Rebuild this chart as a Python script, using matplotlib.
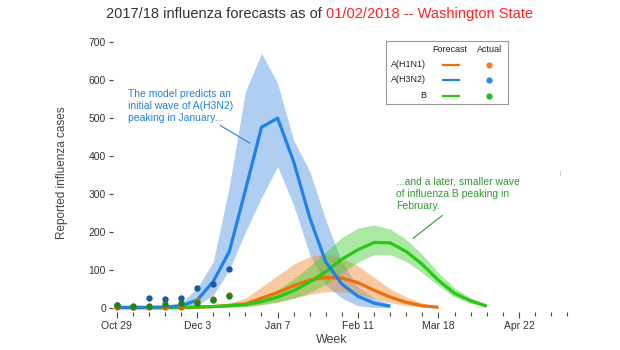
import numpy as np
import matplotlib
matplotlib.use("Agg")
import matplotlib.pyplot as plt

plt.rcParams["font.family"] = ["Liberation Sans", "DejaVu Sans"]

# weeks since Oct 29, 2017
week_labels = ["Oct 29", "Dec 3", "Jan 7", "Feb 11", "Mar 18", "Apr 22"]
label_weeks = [0, 5, 10, 15, 20, 25]

# forecasts (median and band)
h3n2_mid = [1, 1, 1, 2, 5, 20, 69, 148, 310, 476, 500, 385, 237, 120, 62, 30, 12, 4]
h3n2_lo = [0, 0, 0, 0, 1, 6, 33, 100, 200, 290, 372, 270, 140, 60, 25, 5, 1, 0]
h3n2_hi = [3, 3, 4, 5, 12, 52, 121, 320, 570, 671, 592, 441, 360, 230, 120, 55, 25, 10]

h1n1_mid = [0, 0, 0, 0, 0, 1, 3, 6, 10, 25, 40, 58, 73, 80, 78, 66, 46, 28, 14, 5, 1]
h1n1_lo = [0, 0, 0, 0, 0, 0, 1, 2, 3, 8, 15, 25, 35, 42, 42, 35, 24, 13, 6, 2, 0]
h1n1_hi = [1, 1, 1, 1, 1, 3, 7, 13, 25, 55, 85, 115, 135, 142, 132, 110, 80, 50, 28, 12, 4]

b_mid = [0, 0, 0, 0, 1, 2, 3, 5, 8, 16, 28, 45, 68, 95, 128, 153, 172, 171, 148, 114, 72, 38, 18, 4]
b_lo = [0, 0, 0, 0, 0, 0, 1, 2, 3, 8, 15, 25, 40, 62, 92, 120, 140, 140, 122, 92, 58, 28, 12, 2]
b_hi = [1, 1, 1, 2, 3, 5, 7, 10, 15, 28, 48, 75, 110, 148, 185, 210, 218, 208, 180, 140, 92, 52, 26, 10]

# observed counts
h3n2_obs = [7, 2, 25, 23, 25, 53, 63, 103]
h1n1_obs = [2, 2, 1, 1, 3, 18, 22, 33]
b_obs = [6, 4, 5, 9, 12, 13, 20, 31]

names = ["A(H1N1)", "A(H3N2)", "B"]
line_cols = ["#ee6e0a", "#1f82e6", "#28c814"]
band_cols = ["#f08a30", "#4f93e0", "#44cc33"]
dot_cols = ["#d7640a", "#1a5aa0", "#18871e"]
legend_dot_cols = ["#f08020", "#2a8ae8", "#22bb22"]

fig = plt.figure(figsize=(6.2, 3.5), dpi=100)
ax = fig.add_axes([113 / 620, 1 - 311.5 / 350, 459 / 620, 276.8 / 350])

series = {
    "A(H1N1)": (h1n1_mid, h1n1_lo, h1n1_hi, h1n1_obs),
    "A(H3N2)": (h3n2_mid, h3n2_lo, h3n2_hi, h3n2_obs),
    "B": (b_mid, b_lo, b_hi, b_obs),
}

# bands
for i, n in enumerate(["A(H3N2)", "A(H1N1)", "B"]):
    mid, lo, hi, obs = series[n]
    k = names.index(n)
    w = np.arange(len(mid))
    ax.fill_between(w, lo, hi, color=band_cols[k], alpha=0.45, lw=0)

# forecast lines
for n in ["A(H1N1)", "B", "A(H3N2)"]:
    mid, lo, hi, obs = series[n]
    k = names.index(n)
    ax.plot(np.arange(len(mid)), mid, color=line_cols[k], lw=2.3, solid_capstyle="butt")

# observed dots
for n in ["A(H3N2)", "A(H1N1)", "B"]:
    mid, lo, hi, obs = series[n]
    k = names.index(n)
    ax.plot(np.arange(len(obs)), obs, "o", color=dot_cols[k], ms=4.6, mew=0)

ax.set_xlim(-0.23, 28.3)
ax.set_ylim(-10, 720)
for s in ax.spines.values():
    s.set_visible(False)

ax.set_xticks(label_weeks)
ax.set_xticklabels(week_labels)
ax.set_xticks(np.arange(0, 29), minor=True)
ax.set_yticks(np.arange(0, 701, 100))
ax.tick_params(axis="both", which="both", colors="#444444", labelcolor="#333333",
               labelsize=7.5, width=0.8)
ax.tick_params(axis="x", which="major", length=4, pad=2.5)
ax.tick_params(axis="x", which="minor", length=3)
ax.tick_params(axis="y", length=3, pad=2)

ax.set_xlabel("Week", fontsize=9, color="#444444")
ax.xaxis.set_label_coords(0.476, -0.082)
ax.set_ylabel("Reported influenza cases", fontsize=8.5, color="#444444")
ax.yaxis.set_label_coords(-0.098, 0.5)

# annotations
ax.annotate("The model predicts an\ninitial wave of A(H3N2)\npeaking in January...",
            xy=(8.28, 434), xytext=(0.7, 578), textcoords="data",
            ha="left", va="top", fontsize=7.5, color="#1f82e6", linespacing=1.25,
            arrowprops=dict(arrowstyle="-", color="#1f82e6", lw=0.8,
                            shrinkA=0, shrinkB=0, relpos=(0.83, 0.0)))
ax.annotate("...and a later, smaller wave\nof influenza B peaking in\nFebruary.",
            xy=(18.43, 183), xytext=(17.36, 345), textcoords="data",
            ha="left", va="top", fontsize=7.5, color="#2e9a2e", linespacing=1.25,
            arrowprops=dict(arrowstyle="-", color="#2e9a2e", lw=0.8,
                            shrinkA=2, shrinkB=0, relpos=(0.42, 0.0)))
ax.text(27.55, 355, "|", fontsize=3.5, color="#44cc33", ha="center", va="center")

# legend drawn as a small table
lax = fig.add_axes([386 / 620, 1 - 104 / 350, 121.7 / 620, 63 / 350])
lax.set_xlim(0, 121.7)
lax.set_ylim(63, 0)
lax.set_xticks([])
lax.set_yticks([])
for s in lax.spines.values():
    s.set_color("#999999")
    s.set_linewidth(0.8)
lax.text(64, 9, "Forecast", ha="center", va="center", fontsize=6.5, color="#222222")
lax.text(104, 9, "Actual", ha="center", va="center", fontsize=6.5, color="#222222")
row_y = [23.5, 39, 55]
for k, n in enumerate(names):
    lax.text(40, row_y[k], n, ha="right", va="center", fontsize=6.5, color="#222222")
    lax.plot([57.3, 73.3], [row_y[k], row_y[k]], color=line_cols[k], lw=1.6)
    lax.plot([103.3], [row_y[k]], "o", color=legend_dot_cols[k], ms=4.5, mew=0)

# two-coloured title, centred
t1 = fig.text(0.5, 1 - 14 / 350, "2017/18 influenza forecasts as of ", ha="left",
              va="center", fontsize=10.5, color="#333333")
t2 = fig.text(0.5, 1 - 14 / 350, "01/02/2018 -- Washington State", ha="left",
              va="center", fontsize=10.5, color="#ff2222")
fig.canvas.draw()
r = fig.canvas.get_renderer()
w1 = t1.get_window_extent(r).width
w2 = t2.get_window_extent(r).width
x0 = 320 - (w1 + w2) / 2
t1.set_x(x0 / 620)
t2.set_x((x0 + w1) / 620)

fig.savefig("out.png", dpi=100)
